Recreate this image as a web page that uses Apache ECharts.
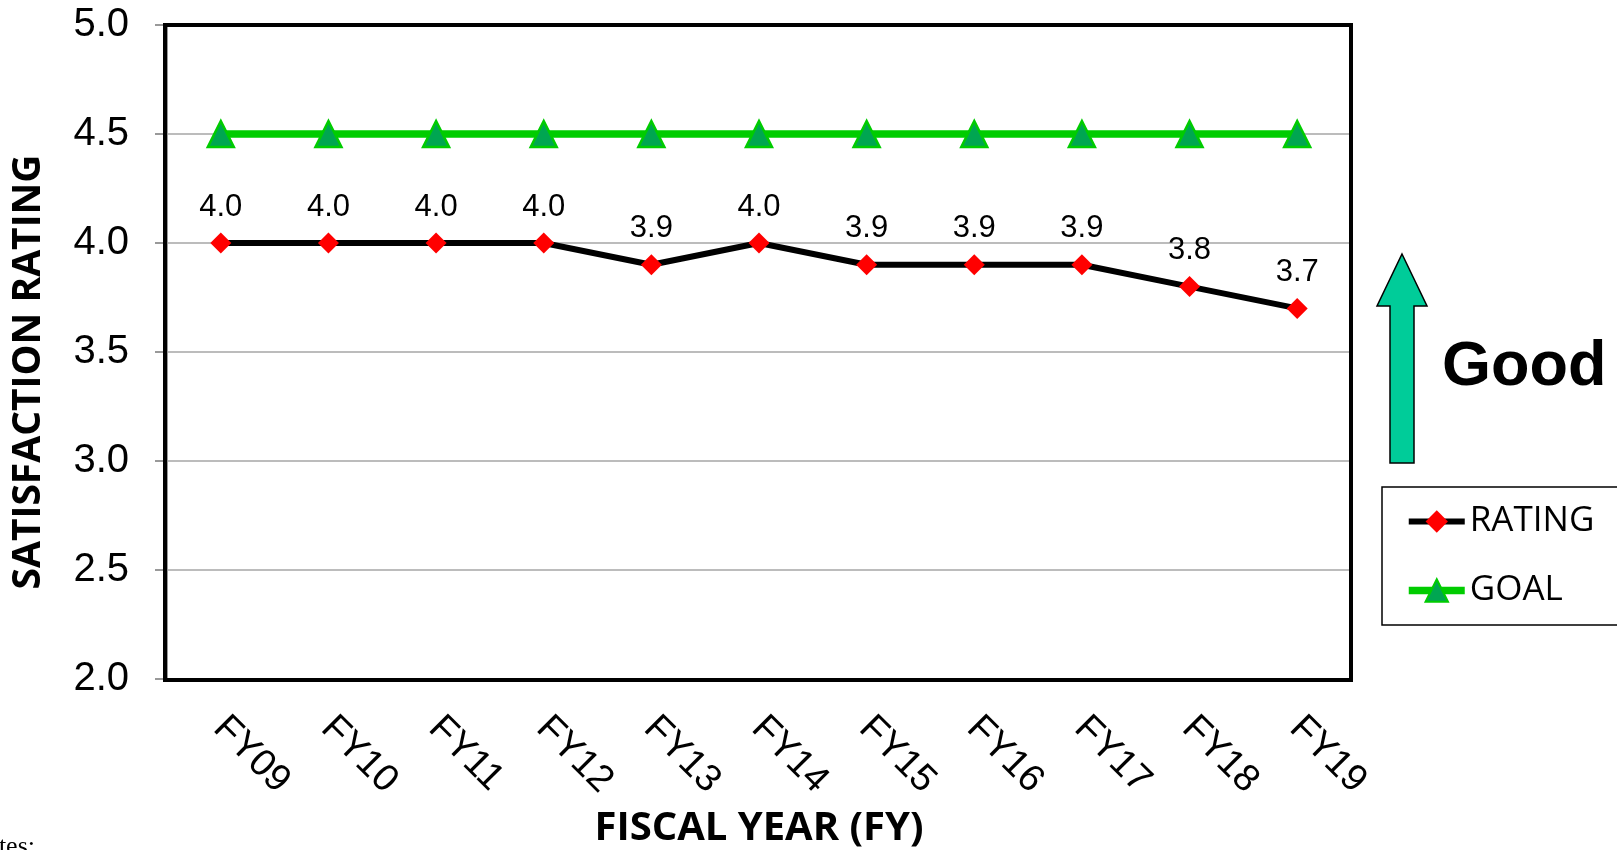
<!DOCTYPE html>
<html>
<head>
<meta charset="utf-8">
<script src="https://cdn.jsdelivr.net/npm/echarts@6/dist/echarts.min.js"></script>
<style>
html,body{margin:0;padding:0;background:#fff;}
#chart{width:1617px;height:850px;}
</style>
</head>
<body>
<div id="chart"></div>
<script>
const categories = ['FY09','FY10','FY11','FY12','FY13','FY14','FY15','FY16','FY17','FY18','FY19'];
const ratingValues = [4.0, 4.0, 4.0, 4.0, 3.9, 4.0, 3.9, 3.9, 3.9, 3.8, 3.7];
const goalValues = [4.5, 4.5, 4.5, 4.5, 4.5, 4.5, 4.5, 4.5, 4.5, 4.5, 4.5];
const yTicks = [2.0, 2.5, 3.0, 3.5, 4.0, 4.5, 5.0];

const chart = echarts.init(document.getElementById('chart'));
const option = {
  animation: false,
  backgroundColor: '#fff',
  grid: {
    left: 167, right: 266, top: 25, bottom: 171,
    show: false,
    containLabel: false,
    outerBoundsMode: 'none'
  },
  legend: {
    orient: 'vertical',
    left: 1382, top: 487,
    padding: [17, 60, 17, 23],
    itemWidth: 56, itemHeight: 28, itemGap: 34,
    borderColor: '#000', borderWidth: 1.5,
    lineStyle: { width: 'inherit' },
    textStyle: { fontFamily: 'Open Sans', fontSize: 35, color: '#000', lineHeight: 35 },
    data: ['RATING', 'GOAL']
  },
  xAxis: {
    type: 'category',
    data: categories,
    boundaryGap: true,
    name: 'FISCAL YEAR (FY)',
    nameLocation: 'middle',
    nameGap: 130,
    nameTextStyle: { fontFamily: 'Open Sans', fontWeight: 'bold', fontSize: 40, color: '#000' },
    axisLine: { show: true, lineStyle: { color: '#999', width: 2 } },
    axisTick: { show: false },
    axisLabel: {
      rotate: -45, margin: 18, verticalAlign: 'top', padding: [0, 0, 0, 17],
      fontFamily: 'Liberation Sans', fontSize: 38, color: '#000'
    },
    splitLine: { show: false }
  },
  yAxis: {
    type: 'value',
    min: 2, max: 5, interval: 0.5,
    name: 'SATISFACTION RATING',
    nameLocation: 'middle',
    nameGap: 119,
    nameTextStyle: { fontFamily: 'Open Sans', fontWeight: 'bold', fontSize: 39, color: '#000', padding: [0, 40, 0, 0] },
    axisLine: { show: true, lineStyle: { color: '#999', width: 2 } },
    axisTick: { show: true, length: 12, lineStyle: { color: '#999', width: 2 } },
    axisLabel: {
      margin: 38, fontFamily: 'Liberation Sans', fontSize: 40, color: '#000',
      formatter: v => v.toFixed(1)
    },
    splitLine: { show: true, lineStyle: { color: '#A6A6A6', width: 1.5 } }
  },
  series: [
    {
      name: 'GOAL',
      type: 'line',
      data: goalValues,
      symbol: 'triangle',
      symbolSize: 26,
      lineStyle: { color: '#00CC00', width: 7.5 },
      itemStyle: { color: '#00A651', borderColor: '#00CC00', borderWidth: 2.5 },
      z: 2
    },
    {
      name: 'RATING',
      type: 'line',
      data: ratingValues,
      symbol: 'diamond',
      symbolSize: 21,
      lineStyle: { color: '#000', width: 6 },
      itemStyle: { color: '#FF0000' },
      label: {
        show: true, position: 'top', distance: 10,
        fontFamily: 'Liberation Sans', fontSize: 31, color: '#000',
        formatter: p => p.value.toFixed(1)
      },
      z: 3
    }
  ],
  graphic: [
    {
      type: 'rect',
      z: 1,
      shape: { x: 165, y: 25, width: 1186, height: 655 },
      style: { fill: 'none', stroke: '#000', lineWidth: 4 }
    },
    {
      type: 'polygon',
      shape: { points: [[1402,254],[1427,306],[1414,306],[1414,463],[1390,463],[1390,306],[1377,306]] },
      style: { fill: '#00CC99', stroke: '#000', lineWidth: 1.5 }
    },
    {
      type: 'text',
      style: { x: 1442, y: 368, text: 'Good', font: 'bold 63px "Liberation Sans"', fill: '#000', textAlign: 'left', textVerticalAlign: 'middle' }
    },
    {
      type: 'text',
      style: { x: 35, y: 860, text: 'Notes:', font: '26px "Liberation Serif"', fill: '#000', textAlign: 'right', textVerticalAlign: 'bottom' }
    }
  ]
};
chart.setOption(option);
</script>
</body>
</html>
